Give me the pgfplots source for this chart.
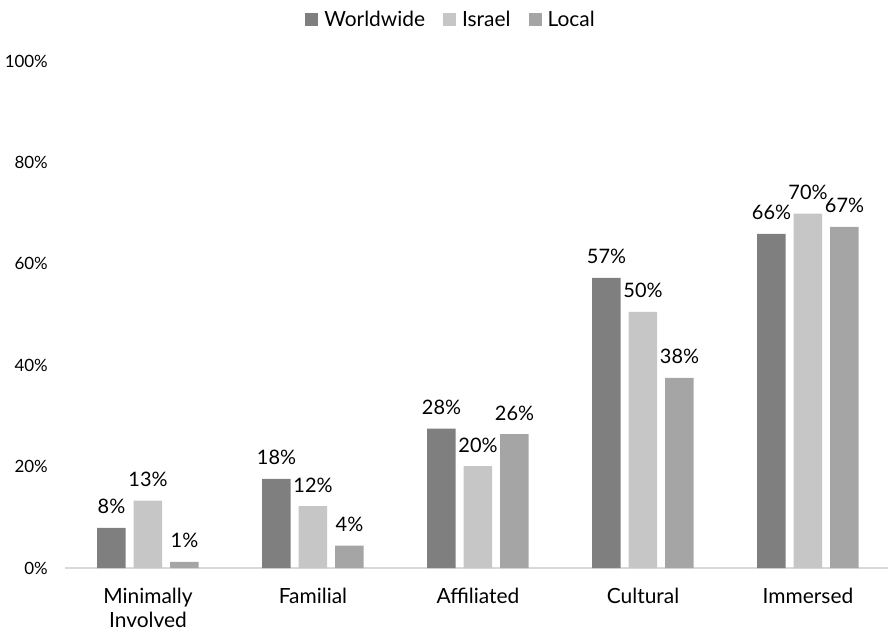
\documentclass[border=0pt]{standalone}
\usepackage{fontspec}
\setmainfont{Lato}
\usepackage{pgfplots}
\pgfplotsset{compat=1.18}
\definecolor{cW}{HTML}{7F7F7F}
\definecolor{cI}{HTML}{C6C6C6}
\definecolor{cL}{HTML}{A5A5A5}
\begin{document}
\begin{tikzpicture}
\begin{axis}[name=ax, scale only axis, width=822.5bp, height=507bp,
  xmin=-0.5, xmax=4.485, ymin=0, ymax=100,
  ybar=8bp, bar width=28.5bp,
  axis x line*=bottom, axis y line*=left,
  x axis line style={-, draw=black!15, line width=1.5bp},
  y axis line style={draw=none},
  major tick length=0pt,
  xtick={0,1,2,3,4},
  xticklabels={{Minimally\\Involved},Familial,Affiliated,Cultural,Immersed},
  xticklabel style={align=center, font=\fontsize{21}{24}\selectfont, inner sep=0pt, anchor=north, yshift=-20bp},
  ytick={0,20,40,60,80,100},
  yticklabels={0\%,20\%,40\%,60\%,80\%,100\%},
  yticklabel style={font=\fontsize{17}{19}\selectfont, inner sep=0pt, anchor=east, xshift=-17.5bp},
  nodes near coords, point meta=explicit symbolic,
  nodes near coords style={font=\fontsize{20}{22}\selectfont, anchor=base, inner sep=0pt, yshift=14bp, text=black},
  legend columns=3,
  legend style={at={(0.4687,1.081)}, anchor=center, draw=none, font=\fontsize{21}{23}\selectfont,
    /tikz/every odd column/.append style={column sep=4bp},
    /tikz/every even column/.append style={column sep=16bp}},
  legend image code/.code={\fill[#1] (0bp,-6.5bp) rectangle (13bp,6.5bp);},
]
\addplot[fill=cW, draw=none] coordinates {(0,7.9)[8\%] (1,17.6)[18\%] (2,27.5)[28\%] (3,57.2)[57\%] (4,65.9)[66\%]};
\addplot[fill=cI, draw=none] coordinates {(0,13.3)[13\%] (1,12.2)[12\%] (2,20.1)[20\%] (3,50.5)[50\%] (4,69.9)[70\%]};
\addplot[fill=cL, draw=none] coordinates {(0,1.2)[1\%] (1,4.4)[4\%] (2,26.4)[26\%] (3,37.5)[38\%] (4,67.3)[67\%]};
\legend{Worldwide,Israel,Local}
\end{axis}
\pgfresetboundingbox
\path[use as bounding box] (ax.south west) ++(-65.5bp,-68bp) rectangle ++(888bp,636bp);
\end{tikzpicture}
\end{document}
